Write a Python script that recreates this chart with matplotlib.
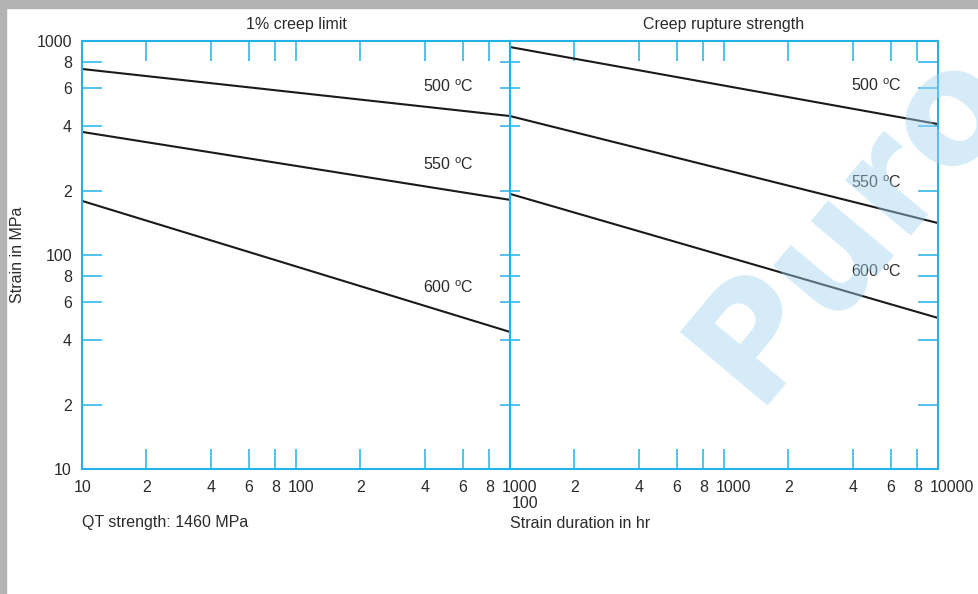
import matplotlib
matplotlib.use('Agg')
import matplotlib.pyplot as plt
from matplotlib.patches import Rectangle
from matplotlib.transforms import ScaledTranslation

# 数据：两段对数坐标上的直线
creep_x = [10, 1000]
creep_500 = [740, 446]
creep_550 = [376, 181]
creep_600 = [179, 43.7]

rupture_x = [100, 10000]
rupture_500 = [937, 409]
rupture_550 = [446, 141]
rupture_600 = [193, 50.8]

left_xticks = [10, 20, 40, 60, 80, 100, 200, 400, 600, 800, 1000]
left_xlabels = ['10', '2', '4', '6', '8', '100', '2', '4', '6', '8', '1000']
right_xticks = [100, 200, 400, 600, 800, 1000, 2000, 4000, 6000, 8000, 10000]
right_xlabels = ['\n100', '2', '4', '6', '8', '1000', '2', '4', '6', '8', '10000']
y_ticks = [10, 20, 40, 60, 80, 100, 200, 400, 600, 800, 1000]
y_labels = ['10', '2', '4', '6', '8', '100', '2', '4', '6', '8', '1000']

# 温度标注位置
left_temp_pos = [(392, 610), (392, 264), (392, 70.2)]
right_temp_pos = [(3918, 617), (3918, 217), (3918, 84)]
temps = ['500', '550', '600']

plt.rcParams['font.family'] = ['Liberation Sans', 'DejaVu Sans']
plt.rcParams['mathtext.fontset'] = 'custom'
plt.rcParams['mathtext.rm'] = 'Liberation Sans'
plt.rcParams['font.size'] = 11.5

BLUE = '#22b2ea'
TXT = '#2b2b2b'
W, H = 979, 594
DPI = 100

fig = plt.figure(figsize=(W / DPI, H / DPI), dpi=DPI)
# 灰色边框
fig.patches.append(Rectangle((0, 1 - 8 / H), 1, 8 / H, transform=fig.transFigure,
                             color='#b3b3b3', zorder=0))
fig.patches.append(Rectangle((0, 0), 6 / W, 1, transform=fig.transFigure,
                             color='#b3b3b3', zorder=0))

box_l = [82 / W, 1 - 469 / H, 428 / W, 428 / H]
box_r = [510 / W, 1 - 469 / H, 428 / W, 428 / H]
ax1 = fig.add_axes(box_l)
ax2 = fig.add_axes(box_r)

tick_len = 20 * 72 / DPI


def style_axes(ax, xticks, xlabels, xlim):
    ax.set_xscale('log')
    ax.set_yscale('log')
    ax.set_xlim(*xlim)
    ax.set_ylim(10, 1000)
    for s in ax.spines.values():
        s.set_color(BLUE)
        s.set_linewidth(1.5)
    ax.set_xticks(xticks, xlabels)
    ax.xaxis.set_minor_locator(matplotlib.ticker.NullLocator())
    ax.yaxis.set_minor_locator(matplotlib.ticker.NullLocator())
    ax.tick_params(axis='x', which='both', direction='in', top=True, bottom=True,
                   length=tick_len, width=1.1, color=BLUE, labelcolor=TXT,
                   pad=7.6, labelsize=11.5)
    # 多位数标签左对齐并左移
    for lbl in ax.get_xticklabels():
        t = lbl.get_text()
        if len(t.strip()) > 1:
            dx = 2 if t.startswith('\n') else -8
            lbl.set_horizontalalignment('left')
            lbl.set_linespacing(1.15)
            lbl.set_transform(lbl.get_transform() +
                              ScaledTranslation(dx / DPI, 0, fig.dpi_scale_trans))


style_axes(ax1, left_xticks, left_xlabels, (10, 1000))
style_axes(ax2, right_xticks, right_xlabels, (100, 10000))

ax1.set_yticks(y_ticks, y_labels)
ax1.tick_params(axis='y', direction='in', left=True, right=False, length=tick_len,
                width=1.1, color=BLUE, labelcolor=TXT, pad=7.2, labelsize=11.5)
ax1.yaxis.set_minor_locator(matplotlib.ticker.NullLocator())

ax2.set_yticks(y_ticks)
ax2.yaxis.set_minor_locator(matplotlib.ticker.NullLocator())
ax2.tick_params(axis='y', direction='in', left=False, right=True, labelleft=False,
                length=tick_len, width=1.1, color=BLUE)

# 中间分隔线两侧的刻度
mid = ax1.twinx()
mid.set_yscale('log')
mid.set_ylim(10, 1000)
mid.set_yticks(y_ticks)
mid.yaxis.set_minor_locator(matplotlib.ticker.NullLocator())
mid.tick_params(axis='y', direction='inout', right=True, labelright=False,
                length=tick_len, width=1.1, color=BLUE)
for s in mid.spines.values():
    s.set_visible(False)

# 曲线
for ys in (creep_500, creep_550, creep_600):
    ax1.plot(creep_x, ys, color='#1a1a1a', lw=1.5, solid_capstyle='butt', clip_on=False)
for ys in (rupture_500, rupture_550, rupture_600):
    ax2.plot(rupture_x, ys, color='#1a1a1a', lw=1.5, solid_capstyle='butt', clip_on=False)

for t, (x, y) in zip(temps, left_temp_pos):
    ax1.text(x, y, t + r' $^{\mathrm{o}}$C', ha='left', va='center', color=TXT)
for t, (x, y) in zip(temps, right_temp_pos):
    ax2.text(x, y, t + r' $^{\mathrm{o}}$C', ha='left', va='center', color=TXT)

ax1.set_title('1% creep limit', color=TXT, pad=9, fontsize=11.5)
ax2.set_title('Creep rupture strength', color=TXT, pad=9, fontsize=11.5)

fig.text(18 / W, 1 - 255 / H, 'Strain in MPa', rotation=90, ha='center', va='center',
         color=TXT)
fig.text(82 / W, 1 - 523 / H, 'QT strength: 1460 MPa', ha='left', va='center', color=TXT)
fig.text(510 / W, 1 - 523 / H, 'Strain duration in hr', ha='left', va='center', color=TXT)

# 水印
fig.text(754 / W, 1 - 406 / H, 'Puro', rotation=50, rotation_mode='anchor',
         ha='left', va='baseline', fontsize=112, fontweight='bold',
         family='DejaVu Sans', color='#a2d5f0', alpha=0.45, zorder=5)

fig.savefig('out.png', dpi=DPI)
